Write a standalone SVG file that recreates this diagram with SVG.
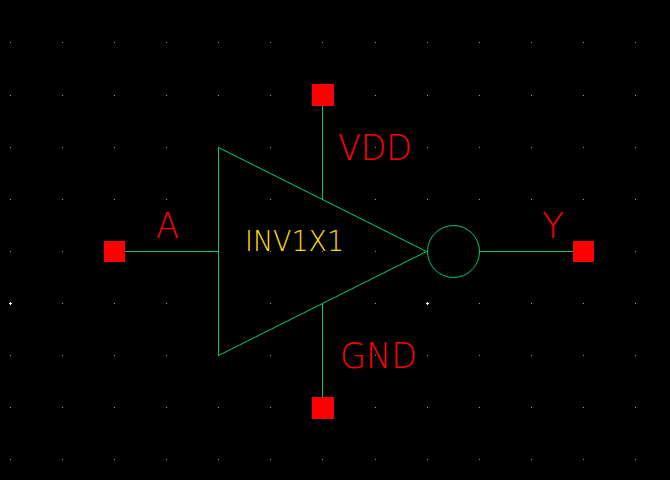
<svg xmlns="http://www.w3.org/2000/svg" xmlns:xlink="http://www.w3.org/1999/xlink" width="670" height="480" viewBox="0 0 670 480">
<style>
.wire{fill:none;stroke:#00cc66;stroke-width:1;shape-rendering:crispEdges}
.sym{fill:none;stroke:#00cc66;stroke-width:1}
.pin{fill:#ff0000;shape-rendering:crispEdges}
.dots{fill:none;stroke:#a0a0a0;stroke-width:1;shape-rendering:crispEdges}
.cross{fill:none;stroke:#ffffff;stroke-width:1;shape-rendering:crispEdges}
text{font-family:"DejaVu Sans","Liberation Sans",sans-serif;font-weight:200}
.lbl{fill:#ff0000;font-size:36px}
.name{fill:#ffdd00;font-size:28px}
</style>
<defs>
<path id="row" class="dots" d="M10 0h1M62 0h1M114 0h1M166 0h1M218 0h1M270 0h1M322 0h1M375 0h1M427 0h1M479 0h1M531 0h1M583 0h1M635 0h1"/>
</defs>
<rect width="670" height="480" fill="#000000"/>
<g id="grid">
<use xlink:href="#row" href="#row" y="42.5"/>
<use xlink:href="#row" href="#row" y="95.5"/>
<use xlink:href="#row" href="#row" y="147.5"/>
<use xlink:href="#row" href="#row" y="199.5"/>
<use xlink:href="#row" href="#row" y="251.5"/>
<use xlink:href="#row" href="#row" y="303.5"/>
<use xlink:href="#row" href="#row" y="355.5"/>
<use xlink:href="#row" href="#row" y="407.5"/>
<use xlink:href="#row" href="#row" y="459.5"/>
<path class="cross" d="M9 303.5h3M10.5 302v3M426 303.5h3M427.5 302v3"/>
</g>
<g id="connectors">
<path class="wire" d="M322.5 106V199M322.5 303V397M125 251.5H218M480 251.5H573"/>
</g>
<g id="inverter">
<path class="sym" d="M218.5 147.5V355.5L426.5 251.5Z"/>
<circle class="sym" cx="453.5" cy="251.5" r="26"/>
<text class="name" x="245" y="251" textLength="99" lengthAdjust="spacingAndGlyphs">INV1X1</text>
</g>
<g id="pin-A">
<rect class="pin" x="104" y="241" width="21" height="21"/>
<text class="lbl" x="156" y="238" textLength="23" lengthAdjust="spacingAndGlyphs">A</text>
</g>
<g id="pin-VDD">
<rect class="pin" x="312" y="84" width="22" height="22"/>
<text class="lbl" x="338" y="160" textLength="74" lengthAdjust="spacingAndGlyphs">VDD</text>
</g>
<g id="pin-GND">
<rect class="pin" x="312" y="397" width="22" height="22"/>
<text class="lbl" x="340" y="368" textLength="77" lengthAdjust="spacingAndGlyphs">GND</text>
</g>
<g id="pin-Y">
<rect class="pin" x="573" y="241" width="21" height="21"/>
<text class="lbl" x="542" y="238" textLength="22" lengthAdjust="spacingAndGlyphs">Y</text>
</g>
</svg>
